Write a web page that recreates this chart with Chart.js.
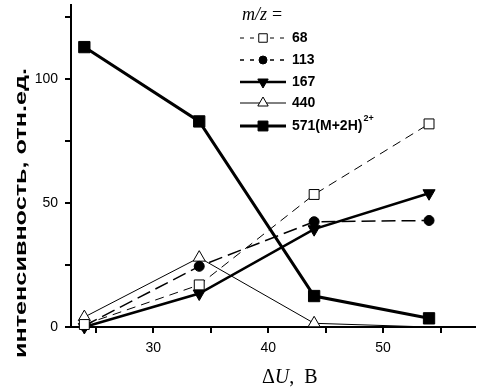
<!DOCTYPE html>
<html>
<head>
<meta charset="utf-8">
<script src="https://cdn.jsdelivr.net/npm/chart.js@4/dist/chart.umd.min.js"></script>
<style>
  html, body { margin: 0; padding: 0; background: #fff; }
  #wrap { width: 485px; height: 392px; }
</style>
</head>
<body>
<div id="wrap"><canvas id="ms_chart" width="485" height="392"></canvas></div>
<script>
// collision energy, V
const deltaU = [24, 34, 44, 54];

// relative intensity for each m/z
const mz68 = [1, 17, 53.5, 82];
const mz113 = [0.5, 24.5, 42.5, 43];
const mz167 = [0, 13.5, 39.5, 54];
const mz440 = [4, 28, 1.5, 0];
const mz571 = [113, 83, 12.5, 3.5];

const seriesLabels = ['68', '113', '167', '440', '571(M+2H)'];
const xTickLabels = [30, 40, 50];
const yTickLabels = [0, 50, 100];

const toPts = vals => vals.map((v, i) => ({ x: deltaU[i], y: v }));

// legend marker sizes (smaller than in the plot)
const legendRadius = [6, 4, 6, 6, 7];

// custom legend + axis titles drawn on the canvas
const legendPlugin = {
  id: 'legendPlugin',
  afterDraw(chart) {
    const ctx = chart.ctx;
    ctx.save();
    ctx.fillStyle = '#000';
    ctx.strokeStyle = '#000';

    // legend title
    ctx.textBaseline = 'middle';
    ctx.font = 'italic 18px "Liberation Serif"';
    ctx.fillText('m/z', 242, 15);
    ctx.font = '18px "Liberation Serif"';
    ctx.fillText('=', 272, 15);

    const rows = [38, 60, 82, 103, 126];
    chart.data.datasets.forEach((ds, i) => {
      const y = rows[i];
      ctx.beginPath();
      ctx.strokeStyle = '#000';
      ctx.lineWidth = ds.borderWidth;
      ctx.setLineDash(ds.borderDash ? [4, 6] : []);
      ctx.lineDashOffset = 0;
      ctx.moveTo(240, y);
      ctx.lineTo(286, y);
      ctx.stroke();
      ctx.setLineDash([]);
      ctx.fillStyle = ds.pointBackgroundColor;
      ctx.lineWidth = 1;
      Chart.helpers.drawPoint(ctx, {
        pointStyle: ds.pointStyle,
        rotation: ds.pointRotation || 0,
        radius: legendRadius[i],
        borderWidth: 1
      }, 263, y);
      ctx.fillStyle = '#000';
      ctx.font = 'bold 14px "Liberation Sans"';
      ctx.fillText(ds.label, 292, y);
      if (i === 4) {
        const w = ctx.measureText(ds.label).width;
        ctx.font = 'bold 9px "Liberation Sans"';
        ctx.fillText('2+', 292 + w + 1, y - 7);
      }
    });

    // y axis title
    ctx.save();
    ctx.translate(21, 213);
    ctx.rotate(-Math.PI / 2);
    ctx.font = 'bold 17px "Liberation Sans"';
    ctx.textAlign = 'center';
    const yt = 'интенсивность, отн.ед.';
    const w = ctx.measureText(yt).width;
    ctx.scale(290 / w, 1);
    ctx.fillText(yt, 0, 0);
    ctx.restore();

    // x axis title
    ctx.textAlign = 'left';
    ctx.font = '20px "Liberation Serif"';
    let x = 262;
    ctx.fillText('\u0394', x, 378);
    x += ctx.measureText('\u0394').width;
    ctx.font = 'italic 20px "Liberation Serif"';
    ctx.fillText('U', x, 378);
    x += ctx.measureText('U').width;
    ctx.font = '20px "Liberation Serif"';
    ctx.fillText(',  B', x, 378);
    ctx.restore();
  }
};

new Chart('ms_chart', {
  type: 'line',
  data: {
    datasets: [
      {
        label: seriesLabels[0],
        data: toPts(mz68),
        borderColor: '#000',
        borderWidth: 1,
        borderDash: [9, 6],
        pointStyle: 'rect',
        pointRadius: 7,
        pointBackgroundColor: '#fff',
        pointBorderColor: '#000',
        pointBorderWidth: 1
      },
      {
        label: seriesLabels[1],
        data: toPts(mz113),
        borderColor: '#000',
        borderWidth: 1.5,
        borderDash: [14, 6],
        pointStyle: 'circle',
        pointRadius: 5,
        pointBackgroundColor: '#000',
        pointBorderColor: '#000',
        pointBorderWidth: 1
      },
      {
        label: seriesLabels[2],
        data: toPts(mz167),
        borderColor: '#000',
        borderWidth: 2.5,
        pointStyle: 'triangle',
        pointRotation: 180,
        pointRadius: 7,
        pointBackgroundColor: '#000',
        pointBorderColor: '#000',
        pointBorderWidth: 1
      },
      {
        label: seriesLabels[3],
        data: toPts(mz440),
        borderColor: '#000',
        borderWidth: 1,
        pointStyle: 'triangle',
        pointRadius: [7, 7, 7, 0],
        pointBackgroundColor: '#fff',
        pointBorderColor: '#000',
        pointBorderWidth: 1
      },
      {
        label: seriesLabels[4],
        data: toPts(mz571),
        borderColor: '#000',
        borderWidth: 3,
        pointStyle: 'rect',
        pointRadius: 8,
        pointBackgroundColor: '#000',
        pointBorderColor: '#000',
        pointBorderWidth: 1
      }
    ]
  },
  options: {
    responsive: false,
    animation: false,
    layout: { autoPadding: false, padding: { left: 0, right: 10, top: 5, bottom: 0 } },
    plugins: {
      legend: { display: false },
      tooltip: { enabled: false }
    },
    elements: { line: { tension: 0 } },
    datasets: { line: { clip: false } },
    scales: {
      x: {
        type: 'linear',
        min: 22.84,
        max: 58,
        afterFit: s => { s.height = 65; s.paddingLeft = 0; s.paddingRight = 0; },
        border: { display: true, color: '#000', width: 2 },
        grid: { drawOnChartArea: false, drawTicks: true, tickLength: 6, color: '#000', lineWidth: 2 },
        ticks: {
          stepSize: 5,
          includeBounds: false,
          color: '#000',
          padding: 7,
          maxRotation: 0,
          font: { family: '"Liberation Sans"', size: 14 },
          callback: v => xTickLabels.includes(v) ? String(v) : ''
        }
      },
      y: {
        type: 'linear',
        min: 0,
        max: 130,
        afterFit: s => { s.width = 71; s.paddingTop = 0; s.paddingBottom = 0; },
        border: { display: true, color: '#000', width: 2 },
        grid: { drawOnChartArea: false, drawTicks: true, tickLength: 6, color: '#000', lineWidth: 2 },
        ticks: {
          stepSize: 25,
          includeBounds: false,
          color: '#000',
          padding: 7,
          font: { family: '"Liberation Sans"', size: 14 },
          callback: v => yTickLabels.includes(v) ? String(v) : ''
        }
      }
    }
  },
  plugins: [legendPlugin]
});
</script>
</body>
</html>
